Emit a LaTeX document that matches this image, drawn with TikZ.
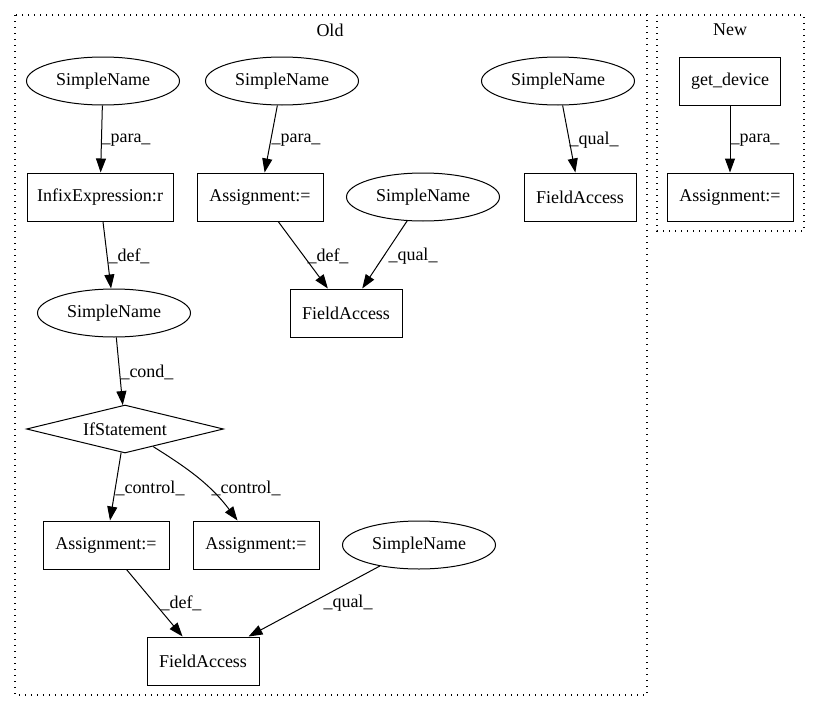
\documentclass[tikz,border=0pt]{standalone}
\usepackage{fontspec}
\setmainfont{Liberation Serif}
\usetikzlibrary{shapes.geometric,arrows.meta}

\tikzset{
  txt/.style={font=\fontsize{18}{20}\selectfont},
  sn/.style={txt, draw, ellipse, line width=1pt, inner sep=0pt, minimum width=153pt, minimum height=48pt},
  box/.style={txt, draw, rectangle, line width=1pt, inner sep=0pt, minimum height=48pt},
  cnd/.style={txt, draw, diamond, aspect=4.1, line width=1pt, inner sep=0pt, minimum width=197pt, minimum height=48pt},
  lbl/.style={txt, inner sep=0pt},
  edge/.style={line width=1pt, -{Triangle[length=14pt,width=10pt]}},
  clus/.style={line width=1.3pt, dash pattern=on 1.3pt off 4.7pt}
}

\begin{document}
\begin{tikzpicture}[x=1pt,y=-1pt]
            \useasboundingbox (0,0) rectangle (820,712);

            % Clusters
            \draw[clus] (15,15) rectangle (647,695);
            \draw[clus] (657,15) rectangle (804,231);
            \node[lbl] (old) at (330,30) {Old};
            \node[lbl] (new) at (730,30) {New};

            % Old
            \node[sn] (sn1) at (103,81) {SimpleName};
            \node[sn] (sn2) at (282,81) {SimpleName};
            \node[sn] (sn3) at (558,81) {SimpleName};
            \node[box, minimum width=146pt] (infix) at (100,197) {InfixExpression:r};
            \node[box, minimum width=126pt] (as1) at (260,197) {Assignment:=};
            \node[sn] (sn4) at (423,197) {SimpleName};
            \node[box, minimum width=112pt] (fa1) at (580,197) {FieldAccess};
            \node[sn] (sn5) at (114,313) {SimpleName};
            \node[box, minimum width=112pt] (fa2) at (346,313) {FieldAccess};
            \node[cnd] (ifst) at (125,429) {IfStatement};
            \node[box, minimum width=126pt] (as2) at (106,545) {Assignment:=};
            \node[box, minimum width=126pt] (as3) at (256,545) {Assignment:=};
            \node[sn] (sn6) at (419,545) {SimpleName};
            \node[box, minimum width=112pt] (fa3) at (203,661) {FieldAccess};

            % New
            \node[box, minimum width=101pt] (getdev) at (730,81) {get\_device};
            \node[box, minimum width=126pt] (as4) at (730,197) {Assignment:=};

            % Edges
            \draw[edge] (sn1) -- (infix);
            \draw[edge] (sn2) -- (as1);
            \draw[edge] (sn3) -- (fa1);
            \draw[edge] (infix) -- (sn5);
            \draw[edge] (as1) -- (fa2);
            \draw[edge] (sn4) -- (fa2);
            \draw[edge] (sn5) -- (ifst);
            \draw[edge] (ifst) -- (as2);
            \draw[edge] (ifst) to[out=-32,in=127] (as3);
            \draw[edge] (as2) -- (fa3);
            \draw[edge] (sn6) -- (fa3);
            \draw[edge] (getdev) -- (as4);

            % Edge labels
            \node[lbl] (l1) at (126,140) {\_para\_};
            \node[lbl] (l2) at (296,140) {\_para\_};
            \node[lbl] (l3) at (594,140) {\_qual\_};
            \node[lbl] (l4) at (755,140) {\_para\_};
            \node[lbl] (l5) at (129,256) {\_def\_};
            \node[lbl] (l6) at (328,256) {\_def\_};
            \node[lbl] (l7) at (413,256) {\_qual\_};
            \node[lbl] (l8) at (147,372) {\_cond\_};
            \node[lbl] (l9) at (150,488) {\_control\_};
            \node[lbl] (l10) at (246,488) {\_control\_};
            \node[lbl] (l11) at (181,603) {\_def\_};
            \node[lbl] (l12) at (348,603) {\_qual\_};
\end{tikzpicture}
\end{document}
